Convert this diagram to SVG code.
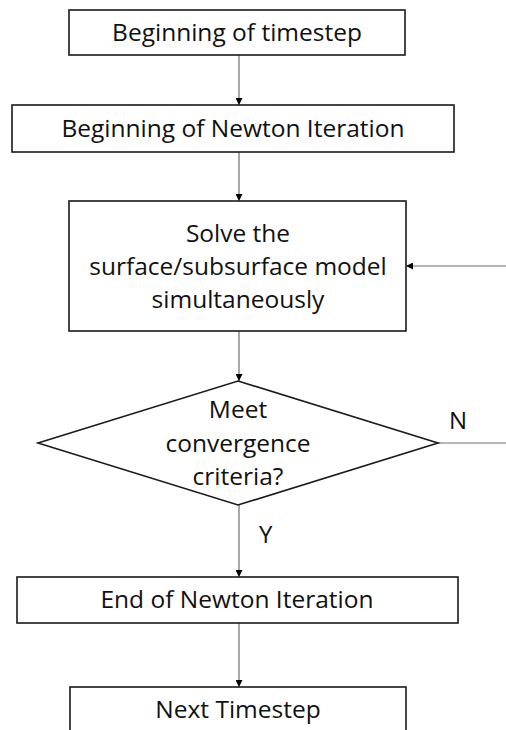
<svg xmlns="http://www.w3.org/2000/svg" width="506" height="730" viewBox="0 0 506 730">
  <style>
    .box { fill: #ffffff; stroke: #1a1a1a; stroke-width: 1.6; }
    .lbl { font-family: "Open Sans", "Liberation Sans", sans-serif; font-size: 24.5px; fill: #111111; text-anchor: middle; }
    .tag { font-family: "Open Sans", "Liberation Sans", sans-serif; font-size: 24px; fill: #111111; }
    .edge { fill: none; stroke: #6e6e6e; stroke-width: 1.2; }
  </style>
  <defs>
    <marker id="arrow" viewBox="0 0 10 10" refX="10" refY="5" markerWidth="7" markerHeight="7" markerUnits="userSpaceOnUse" orient="auto">
      <path d="M0,0 L10,5 L0,10 Z" fill="#000000"/>
    </marker>
  </defs>
  <rect width="506" height="730" fill="#ffffff"/>

  <g id="connectors">
    <line class="edge" x1="239" y1="55" x2="239" y2="105" marker-end="url(#arrow)"/>
    <line class="edge" x1="239" y1="152" x2="239" y2="201" marker-end="url(#arrow)"/>
    <line class="edge" x1="239" y1="331" x2="239" y2="381" marker-end="url(#arrow)"/>
    <line class="edge" x1="438" y1="443" x2="506" y2="443"/>
    <line class="edge" x1="506" y1="266" x2="406" y2="266" marker-end="url(#arrow)"/>
    <line class="edge" x1="239" y1="505" x2="239" y2="577" marker-end="url(#arrow)"/>
    <line class="edge" x1="239" y1="623" x2="239" y2="687" marker-end="url(#arrow)"/>
    <text class="tag" x="449" y="429">N</text>
    <text class="tag" x="259" y="543">Y</text>
  </g>

  <g id="begin-timestep">
    <rect class="box" x="69" y="10" width="336" height="45"/>
    <text class="lbl" x="237" y="41">Beginning of timestep</text>
  </g>

  <g id="begin-newton">
    <rect class="box" x="12" y="105" width="442" height="47"/>
    <text class="lbl" x="233" y="137">Beginning of Newton Iteration</text>
  </g>

  <g id="solve">
    <rect class="box" x="69" y="201" width="337" height="130"/>
    <text class="lbl" x="238" y="242">Solve the</text>
    <text class="lbl" x="238" y="275">surface/subsurface model</text>
    <text class="lbl" x="238" y="308">simultaneously</text>
  </g>

  <g id="convergence">
    <polygon class="box" points="238,381 438,443 238,505 38,443"/>
    <text class="lbl" x="238" y="418">Meet</text>
    <text class="lbl" x="238" y="452">convergence</text>
    <text class="lbl" x="238" y="485">criteria?</text>
  </g>

  <g id="end-newton">
    <rect class="box" x="17" y="577" width="441" height="46"/>
    <text class="lbl" x="237" y="608">End of Newton Iteration</text>
  </g>

  <g id="next-timestep">
    <rect class="box" x="70" y="687" width="336" height="60"/>
    <text class="lbl" x="238" y="718">Next Timestep</text>
  </g>
</svg>
